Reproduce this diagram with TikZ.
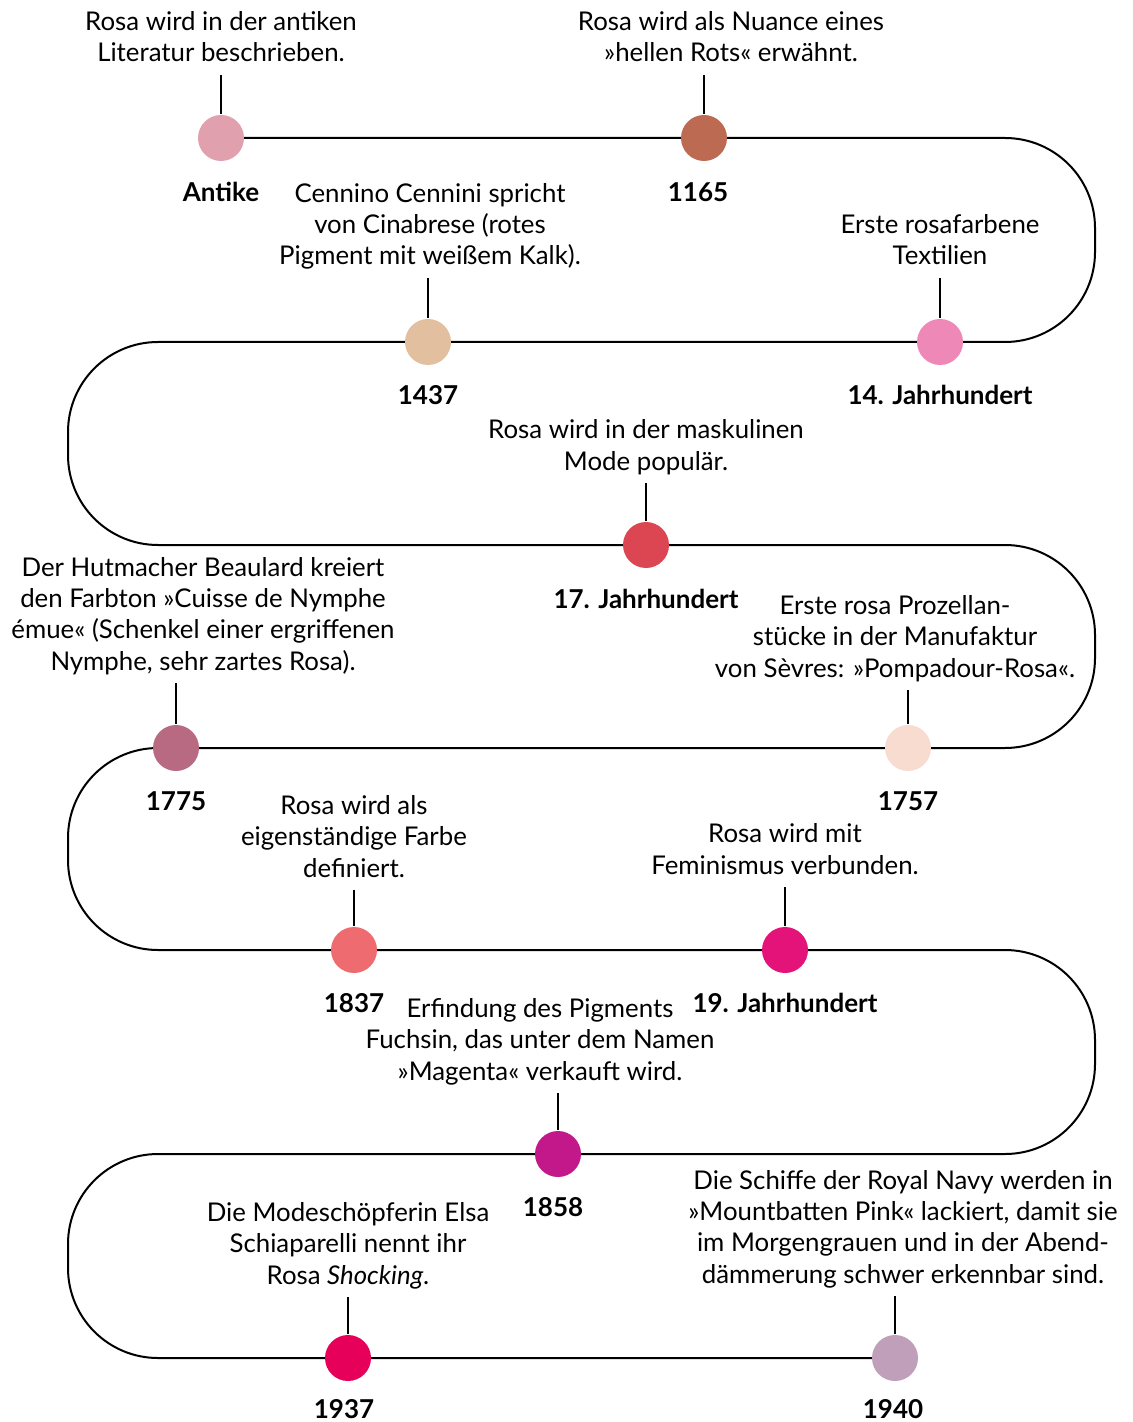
\documentclass[tikz,border=0pt]{standalone}
\usepackage{fontspec, tkz-euclide}
\setmainfont{Lato}
\tikzset{>=stealth}
\definecolor{cA}{HTML}{E0A0AE}
\definecolor{cB}{HTML}{BC6A52}
\definecolor{cC}{HTML}{E2BF9E}
\definecolor{cD}{HTML}{EE88B6}
\definecolor{cE}{HTML}{DC4552}
\definecolor{cF}{HTML}{B86A82}
\definecolor{cG}{HTML}{F9DCD0}
\definecolor{cH}{HTML}{EE6B70}
\definecolor{cI}{HTML}{E4137A}
\definecolor{cJ}{HTML}{C2188A}
\definecolor{cK}{HTML}{E6005A}
\definecolor{cL}{HTML}{C09FBA}
\tikzset{
  dot/.style={circle, inner sep=0pt, minimum size=23pt},
  event/.style={anchor=south, align=center, inner sep=0pt, text depth=3pt,
    font=\fontsize{12.9pt}{15.6pt}\selectfont},
  year/.style={anchor=base, inner sep=0pt, font=\fontsize{13pt}{15.5pt}\selectfont\bfseries}
}

\begin{document}
\begin{tikzpicture}[x=0.5pt, y=-0.5pt, line width=1pt]
\useasboundingbox (0,0) rectangle (1133,1422);
% events on the line
\tkzDefPoints{221/138/A, 704/138/B, 428/342/C, 940/342/D, 646/545/E, 176/748/F,
  908/748/G, 354/950/H, 785/950/I, 558/1154/J, 348/1358/K, 895/1358/L}
% turning points of the line
\tkzDefPoints{1095/138/R1, 1095/342/R2, 68/342/L2, 68/545/L3, 1095/545/R3, 1095/748/R4,
  68/748/L4, 68/950/L5, 1095/950/R5, 1095/1154/R6, 68/1154/L6, 68/1358/L7}
% tops of the stems
\tkzDefPoints{221/75/sA, 704/75/sB, 428/278/sC, 940/278/sD, 646/483/sE, 176/683/sF,
  908/690/sG, 354/890/sH, 785/887/sI, 558/1093/sJ, 348/1297/sK, 895/1296/sL}
\draw[rounded corners=45pt] (A) -- (R1) -- (R2) -- (L2) -- (L3) -- (R3) -- (R4) -- (L4)
  -- (L5) -- (R5) -- (R6) -- (L6) -- (L7) -- (L);
\foreach \p in {A,B,C,D,E,F,G,H,I,J,K,L}{
  \node[dot, fill=c\p] (d\p) at (\p) {};
  \draw (s\p) -- (d\p);
}
\node[event] (tA) at (221,69) {Rosa wird in der antiken\\Literatur beschrieben.};
\node[event] (tB) at (731,69) {Rosa wird als Nuance eines\\»hellen Rots« erwähnt.};
\node[event] (tC) at (430,272) {Cennino Cennini spricht\\von Cinabrese (rotes\\Pigment mit weißem Kalk).};
\node[event] (tD) at (940,272) {Erste rosafarbene\\Textilien};
\node[event] (tE) at (646,477) {Rosa wird in der maskulinen\\Mode populär.};
\node[event] (tF) at (203,677) {Der Hutmacher Beaulard kreiert\\den Farbton »Cuisse de Nymphe\\émue« (Schenkel einer ergriffenen\\Nymphe, sehr zartes Rosa).};
\node[event] (tG) at (895,684) {Erste rosa Prozellan-\\stücke in der Manufaktur\\von Sèvres: »Pompadour-Rosa«.};
\node[event] (tH) at (354,884) {Rosa wird als\\eigenständige Farbe\\definiert.};
\node[event] (tI) at (785,881) {Rosa wird mit\\Feminismus verbunden.};
\node[event] (tJ) at (540,1087) {Erfindung des Pigments\\Fuchsin, das unter dem Namen\\»Magenta« verkauft wird.};
\node[event] (tK) at (348,1291) {Die Modeschöpferin Elsa\\Schiaparelli nennt ihr\\Rosa \textit{Shocking}.};
\node[event] (tL) at (903,1290) {Die Schiffe der Royal Navy werden in\\»Mountbatten Pink« lackiert, damit sie\\im Morgengrauen und in der Abend-\\dämmerung schwer erkennbar sind.};
\foreach \p/\x/\y/\t in {A/221/202/Antike, B/698/202/1165, C/428/405/1437,
  D/940/405/14. Jahrhundert, E/646/608/17. Jahrhundert, F/176/810/1775, G/908/810/1757,
  H/354/1012/1837, I/785/1012/19. Jahrhundert, J/553/1216/1858, K/344/1418/1937, L/893/1418/1940}
  \node[year] (y\p) at (\x,\y) {\t};
\end{tikzpicture}
\end{document}
